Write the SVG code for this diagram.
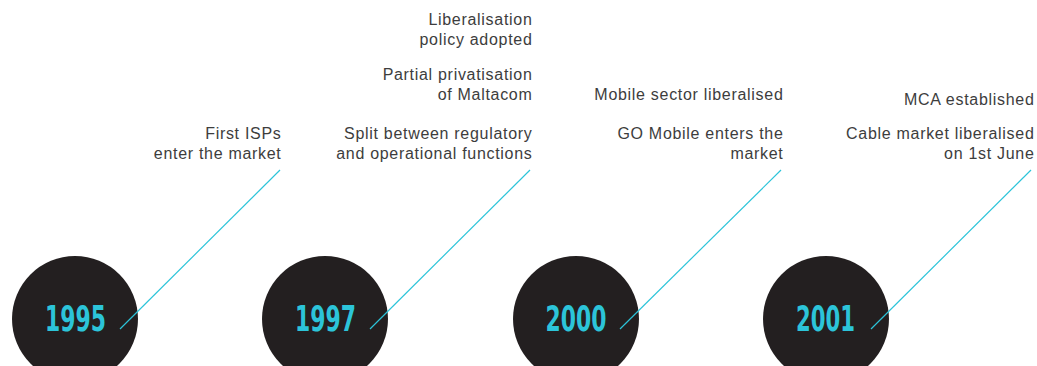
<svg xmlns="http://www.w3.org/2000/svg" width="1037" height="366" viewBox="0 0 1037 366">
<style>
.c{fill:#231f20}
.y{fill:#2cc4d9;font-family:"DejaVu Sans",sans-serif;font-weight:bold;font-size:35px;text-anchor:middle}
.l{fill:#3d3d3d;font-family:"Liberation Sans",Arial,sans-serif;font-size:16px;letter-spacing:0.7px;text-anchor:end}
.k{stroke:#2cc4d9;stroke-width:1.2;fill:none}
</style>
<rect width="1037" height="366" fill="#fff"/>
<g id="n1995">
<circle class="c" cx="75" cy="319" r="63"/>
<text class="y" x="75.5" y="331" textLength="61" lengthAdjust="spacingAndGlyphs">1995</text>
<text class="l" x="281.5" y="139">First ISPs</text>
<text class="l" x="281.5" y="159">enter the market</text>
</g>
<g id="n1997">
<circle class="c" cx="325" cy="319" r="63"/>
<text class="y" x="325.5" y="331" textLength="61" lengthAdjust="spacingAndGlyphs">1997</text>
<text class="l" x="532.5" y="25">Liberalisation</text>
<text class="l" x="532.5" y="45">policy adopted</text>
<text class="l" x="532.5" y="80">Partial privatisation</text>
<text class="l" x="532.5" y="100">of Maltacom</text>
<text class="l" x="532.5" y="139">Split between regulatory</text>
<text class="l" x="532.5" y="159">and operational functions</text>
</g>
<g id="n2000">
<circle class="c" cx="576" cy="319" r="63"/>
<text class="y" x="576" y="331" textLength="61" lengthAdjust="spacingAndGlyphs">2000</text>
<text class="l" x="783.5" y="100">Mobile sector liberalised</text>
<text class="l" x="783.5" y="139">GO Mobile enters the</text>
<text class="l" x="783.5" y="159">market</text>
</g>
<g id="n2001">
<circle class="c" cx="826" cy="319" r="63"/>
<text class="y" x="825.5" y="331" textLength="59" lengthAdjust="spacingAndGlyphs">2001</text>
<text class="l" x="1034.5" y="105">MCA established</text>
<text class="l" x="1034.5" y="139">Cable market liberalised</text>
<text class="l" x="1034.5" y="159">on 1st June</text>
</g>
<g id="connectors">
<line class="k" x1="120" y1="329" x2="280" y2="170"/>
<line class="k" x1="370" y1="329" x2="530" y2="170"/>
<line class="k" x1="620" y1="329" x2="781" y2="170"/>
<line class="k" x1="871" y1="329" x2="1031" y2="170"/>
</g>
</svg>
